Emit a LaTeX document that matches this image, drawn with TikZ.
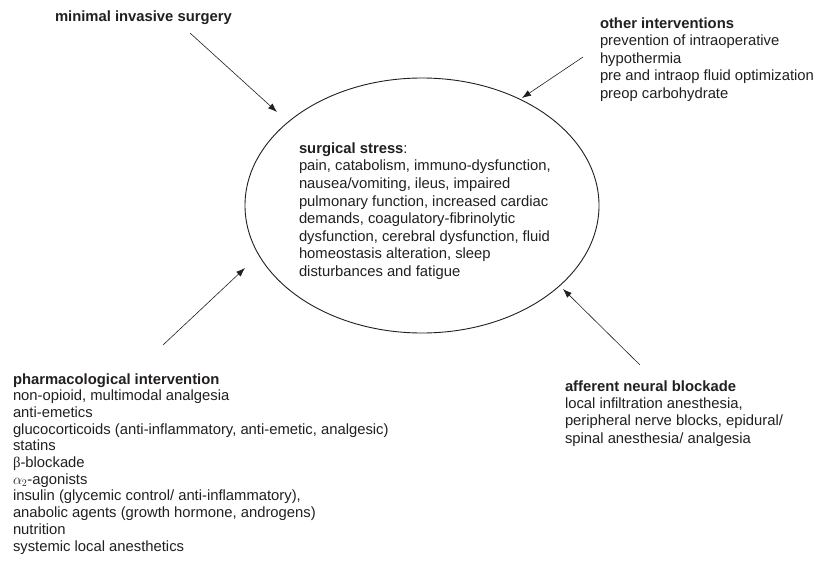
\documentclass[tikz,border=0pt]{standalone}
\usepackage{fontspec}
\setmainfont{Liberation Sans}
\newfontfamily\symfont{Liberation Serif}
\usetikzlibrary{arrows.meta,shapes.geometric}
\definecolor{ink}{HTML}{231F20}
\newcommand{\txtblock}[2]{\fontsize{14.8}{#1}\selectfont\begin{tabular}[t]{@{}l@{}}#2\end{tabular}}
\tikzset{
  lbl/.style={anchor=base west, inner sep=0pt, outer sep=0pt, text=ink},
  arr/.style={draw=ink, line width=0.6pt, -{Latex[length=9pt,width=6.5pt]}},
  stressshape/.style={draw=ink, line width=0.9pt, ellipse, inner sep=0pt,
    minimum width=354pt, minimum height=255pt}
}
\begin{document}
\begin{tikzpicture}[x=1pt,y=-1pt]
\useasboundingbox[fill=white] (0,0) rectangle (827,565);
\renewcommand{\arraystretch}{1}
% ellipse
\node[stressshape] (stress) at (422,205.5) {};
\node[lbl] (stresstext) at (299,153.3) {\txtblock{17.6}{%
\textbf{surgical stress}:\\
pain, catabolism, immuno-dysfunction,\\
nausea/vomiting, ileus, impaired\\
pulmonary function, increased cardiac\\
demands, coagulatory-fibrinolytic\\
dysfunction, cerebral dysfunction, fluid\\
homeostasis alteration, sleep\\
disturbances and fatigue}};
% labels
\node[lbl] (mis) at (55,21.5) {\fontsize{14.8}{17.5}\selectfont\textbf{minimal invasive surgery}};
\node[lbl] (other) at (600,28) {\txtblock{17.5}{%
\textbf{other interventions}\\
prevention of intraoperative\\
hypothermia\\
pre and intraop fluid optimization\\
preop carbohydrate}};
\node[lbl] (pharma) at (13,384) {\txtblock{16.7}{%
\textbf{pharmacological intervention}\\
non-opioid, multimodal analgesia\\
anti-emetics\\
glucocorticoids (anti-inflammatory, anti-emetic, analgesic)\\
statins\\
{\symfont β}-blockade\\
$\alpha_2$-agonists\\
insulin (glycemic control/ anti-inflammatory),\\
anabolic agents (growth hormone, androgens)\\
nutrition\\
systemic local anesthetics}};
\node[lbl] (afferent) at (565,391) {\txtblock{17.4}{%
\textbf{afferent neural blockade}\\
local infiltration anesthesia,\\
peripheral nerve blocks, epidural/\\
spinal anesthesia/ analgesia}};
% arrow end points
\coordinate (misS) at (190,33);   \coordinate (misE) at (277,112);
\coordinate (othS) at (583,57);   \coordinate (othE) at (522,98);
\coordinate (phaS) at (163,345);  \coordinate (phaE) at (245,268);
\coordinate (affS) at (640,365);  \coordinate (affE) at (563,289);
\draw[arr] (misS) -- (misE);
\draw[arr] (othS) -- (othE);
\draw[arr] (phaS) -- (phaE);
\draw[arr] (affS) -- (affE);
\end{tikzpicture}
\end{document}
